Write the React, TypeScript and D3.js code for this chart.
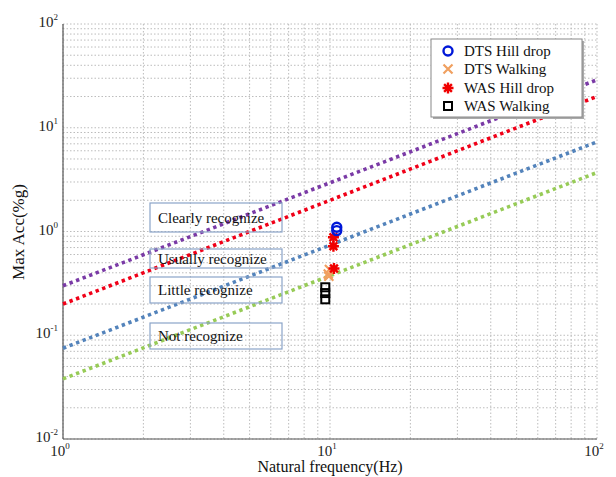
import React, { useRef, useEffect } from 'react';
import * as d3 from 'd3';

// threshold lines: value at 1 Hz and at 100 Hz
const lineNames = ['purple', 'red', 'blue', 'green'];
const lineStart = [0.3, 0.2, 0.075, 0.038];
const lineEnd = [29, 20, 7.3, 3.7];
const lineColors = ['#7a3aa6', '#f00018', '#5383bb', '#97cb57'];

// measured points [Hz, %g]
const dtsHill = [[10.6, 1.1], [10.6, 1.02]];
const dtsWalk = [[9.95, 0.43], [9.85, 0.39], [9.9, 0.37]];
const wasHill = [[10.3, 0.88], [10.3, 0.72], [10.35, 0.44]];
const wasWalk = [[9.6, 0.29], [9.6, 0.255], [9.6, 0.222]];

const zoneLabels = ['Clearly  recognize', 'Usually recognize', 'Little recognize', 'Not recognize'];
const zoneTops = [203, 249, 277, 323];
const zoneBottoms = [232, 268, 303, 349];

const legendLabels = ['DTS Hill drop', 'DTS Walking', 'WAS Hill drop', 'WAS Walking'];
const decades = [-2, -1, 0, 1, 2];
const xDecades = [0, 1, 2];

const App = () => {
  const svgRef = useRef<SVGSVGElement>(null);

  useEffect(() => {
    const svg = d3.select(svgRef.current);
    svg.selectAll('*').remove();
    const font = '"Liberation Serif", "Times New Roman", serif';

    const x = d3.scaleLog().domain([1, 100]).range([63, 597]);
    const y = d3.scaleLog().domain([0.01, 100]).range([439, 24]);

    // grid
    const xGrid: number[] = [];
    for (let d = 0; d < 2; d++) for (let k = 1; k <= 9; k++) xGrid.push(k * 10 ** d);
    xGrid.push(100);
    const yGrid: number[] = [];
    for (let d = -2; d < 2; d++) for (let k = 1; k <= 9; k++) yGrid.push(k * 10 ** d);
    yGrid.push(100);

    const g = svg.append('g');
    g.selectAll('.vg').data(xGrid).enter().append('line')
      .attr('x1', d => x(d)).attr('x2', d => x(d))
      .attr('y1', 24).attr('y2', 439)
      .attr('stroke', '#bcbcbc').attr('stroke-width', 1)
      .attr('stroke-dasharray', '1.5 2');
    g.selectAll('.hg').data(yGrid).enter().append('line')
      .attr('x1', 63).attr('x2', 597)
      .attr('y1', d => y(d)).attr('y2', d => y(d))
      .attr('stroke', '#bcbcbc').attr('stroke-width', 1)
      .attr('stroke-dasharray', '1.5 2');

    // axes lines
    svg.append('line').attr('x1', 63).attr('x2', 63).attr('y1', 24).attr('y2', 439)
      .attr('stroke', '#555').attr('stroke-width', 1.2);
    svg.append('line').attr('x1', 63).attr('x2', 597).attr('y1', 439).attr('y2', 439)
      .attr('stroke', '#555').attr('stroke-width', 1.2);

    // threshold lines
    lineNames.forEach((n, i) => {
      svg.append('line')
        .attr('x1', x(1)).attr('y1', y(lineStart[i]))
        .attr('x2', x(100)).attr('y2', y(lineEnd[i]))
        .attr('stroke', lineColors[i]).attr('stroke-width', 3.6)
        .attr('stroke-dasharray', '3.4 3.6');
    });

    // zone boxes
    zoneLabels.forEach((t, i) => {
      svg.append('rect')
        .attr('x', 150).attr('y', zoneTops[i])
        .attr('width', 132).attr('height', zoneBottoms[i] - zoneTops[i])
        .attr('fill', 'none').attr('stroke', '#8aa4c8').attr('stroke-width', 1.2);
      svg.append('text')
        .attr('x', 158).attr('y', (zoneTops[i] + zoneBottoms[i]) / 2 + 5)
        .style('font-family', font).style('font-size', '15px').attr('fill', '#111')
        .text(t);
    });

    // markers
    const drawCircle = (sel: any, cx: number, cy: number) =>
      sel.append('circle').attr('cx', cx).attr('cy', cy).attr('r', 4.5)
        .attr('fill', 'none').attr('stroke', '#0018d8').attr('stroke-width', 2.4);
    const drawX = (sel: any, cx: number, cy: number) => {
      const s = 4.5;
      sel.append('path').attr('d', `M${cx - s},${cy - s}L${cx + s},${cy + s}M${cx - s},${cy + s}L${cx + s},${cy - s}`)
        .attr('stroke', '#f0a060').attr('stroke-width', 2.2).attr('fill', 'none');
    };
    const drawStar = (sel: any, cx: number, cy: number) => {
      const s = 5.5;
      let d = '';
      for (let k = 0; k < 4; k++) {
        const a = (k * Math.PI) / 4;
        d += `M${cx - s * Math.cos(a)},${cy - s * Math.sin(a)}L${cx + s * Math.cos(a)},${cy + s * Math.sin(a)}`;
      }
      sel.append('path').attr('d', d).attr('stroke', '#f00000').attr('stroke-width', 2.4).attr('fill', 'none');
    };
    const drawSquare = (sel: any, cx: number, cy: number) =>
      sel.append('rect').attr('x', cx - 4).attr('y', cy - 4).attr('width', 8).attr('height', 8)
        .attr('fill', 'none').attr('stroke', '#000').attr('stroke-width', 2);

    wasWalk.forEach(p => drawSquare(svg, x(p[0]), y(p[1])));
    dtsWalk.forEach(p => drawX(svg, x(p[0]), y(p[1])));
    wasHill.forEach(p => drawStar(svg, x(p[0]), y(p[1])));
    dtsHill.forEach(p => drawCircle(svg, x(p[0]), y(p[1])));

    // legend
    svg.append('rect').attr('x', 433).attr('y', 41).attr('width', 151).attr('height', 78)
      .attr('fill', '#aaa');
    svg.append('rect').attr('x', 431).attr('y', 39).attr('width', 151).attr('height', 78)
      .attr('fill', '#fff').attr('stroke', '#888').attr('stroke-width', 1);
    const legY = [51, 69, 88, 106];
    const drawers = [drawCircle, drawX, drawStar, drawSquare];
    legendLabels.forEach((t, i) => {
      drawers[i](svg, 448, legY[i]);
      svg.append('text').attr('x', 464).attr('y', legY[i] + 5)
        .style('font-family', font).style('font-size', '15px').attr('fill', '#111')
        .text(t);
    });

    // y tick labels
    decades.forEach(e => {
      const t = svg.append('text').attr('x', 58).attr('y', y(10 ** e) + 3)
        .attr('text-anchor', 'end')
        .style('font-family', font).style('font-size', '15px').attr('fill', '#222');
      t.append('tspan').text('10');
      t.append('tspan').attr('dy', -7).style('font-size', '9px').text(String(e));
    });
    // x tick labels
    xDecades.forEach(e => {
      const t = svg.append('text').attr('x', x(10 ** e) - 3).attr('y', 456)
        .attr('text-anchor', 'middle')
        .style('font-family', font).style('font-size', '15px').attr('fill', '#222');
      t.append('tspan').text('10');
      t.append('tspan').attr('dy', -7).style('font-size', '9px').text(String(e));
    });

    // axis titles
    svg.append('text').attr('x', 330).attr('y', 472).attr('text-anchor', 'middle')
      .style('font-family', font).style('font-size', '16px').attr('fill', '#111')
      .text('Natural frequency(Hz)');
    svg.append('text').attr('transform', 'translate(24,232) rotate(-90)').attr('text-anchor', 'middle')
      .style('font-family', font).style('font-size', '17px').attr('fill', '#111')
      .text('Max Acc(%g)');
  }, []);

  return (
    <svg ref={svgRef} width={616} height={477}
      style={{ position: 'absolute', left: 0, top: 0, background: '#fff' }} />
  );
};

export default App;
